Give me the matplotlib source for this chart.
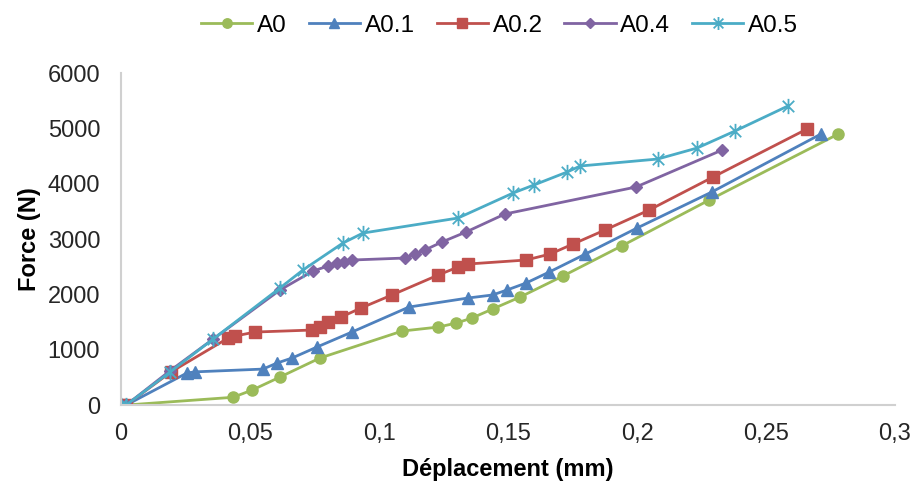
import matplotlib.pyplot as plt
from matplotlib.path import Path

plt.rcParams['font.family'] = ['Liberation Sans', 'DejaVu Sans']

# data (displacement in mm, force in N)
a0_x = [0, 0.002, 0.0434, 0.0508, 0.0616, 0.0771, 0.109, 0.123, 0.130, 0.136, 0.144,
        0.1547, 0.1713, 0.194, 0.228, 0.278]
a0_y = [0, 0, 140, 270, 506, 850, 1338, 1410, 1483, 1573, 1736,
        1953, 2333, 2875, 3707, 4900]

a01_x = [0, 0.002, 0.0256, 0.0287, 0.055, 0.0605, 0.0663, 0.076, 0.0895, 0.1116, 0.1345,
         0.144, 0.1496, 0.157, 0.166, 0.180, 0.200, 0.229, 0.2713]
a01_y = [0, 0, 580, 600, 650, 760, 850, 1050, 1320, 1772, 1935,
         1990, 2080, 2206, 2405, 2730, 3200, 3852, 4900]

a02_x = [0, 0.002, 0.0194, 0.0415, 0.0442, 0.052, 0.074, 0.0771, 0.0802, 0.0853, 0.093,
         0.105, 0.1229, 0.1306, 0.1345, 0.157, 0.1663, 0.1752, 0.1876, 0.2047, 0.2295, 0.2659]
a02_y = [0, 0, 600, 1210, 1248, 1320, 1356, 1410, 1500, 1591, 1754,
         1990, 2350, 2495, 2550, 2622, 2730, 2911, 3165, 3526, 4123, 4991]

a04_x = [0, 0.002, 0.019, 0.0357, 0.0616, 0.0744, 0.0802, 0.0837, 0.0864, 0.0895, 0.110,
         0.114, 0.1178, 0.1244, 0.1337, 0.1488, 0.1996, 0.233]
a04_y = [0, 0, 620, 1193, 2080, 2423, 2513, 2568, 2586, 2622, 2658,
         2730, 2803, 2948, 3128, 3454, 3942, 4611]

a05_x = [0, 0.002, 0.019, 0.0357, 0.0616, 0.0705, 0.086, 0.0938, 0.1306, 0.152, 0.160,
         0.1729, 0.178, 0.208, 0.2233, 0.238, 0.2585]
a05_y = [0, 0, 597, 1193, 2116, 2441, 2929, 3110, 3381, 3834, 3978,
         4213, 4322, 4448, 4647, 4955, 5407]

x_ticks = [0, 0.05, 0.1, 0.15, 0.2, 0.25, 0.3]
x_labels = ['0', '0,05', '0,1', '0,15', '0,2', '0,25', '0,3']

# excel style star: vertical bar plus an X
star = Path([(0, -1), (0, 1), (-0.75, -0.75), (0.75, 0.75), (-0.75, 0.75), (0.75, -0.75)],
            [Path.MOVETO, Path.LINETO, Path.MOVETO, Path.LINETO, Path.MOVETO, Path.LINETO])

fig = plt.figure(figsize=(9.17, 4.88), dpi=100)
ax = fig.add_axes([0.132, 0.170, 0.844, 0.680])

ax.plot(a0_x, a0_y, color='#9BBB59', marker='o', markersize=8, lw=2, label='A0')
ax.plot(a01_x, a01_y, color='#4F81BD', marker='^', markersize=9, lw=2, label='A0.1')
ax.plot(a02_x, a02_y, color='#C0504D', marker='s', markersize=8, lw=2, label='A0.2')
ax.plot(a04_x, a04_y, color='#8064A2', marker='D', markersize=6.5, lw=2, label='A0.4')
ax.plot(a05_x, a05_y, color='#4BACC6', marker=star, markersize=11, mew=1.3,
        lw=2, label='A0.5')

ax.set_xlim(0, 0.3)
ax.set_ylim(0, 6000)
ax.set_xticks(x_ticks)
ax.set_xticklabels(x_labels)
ax.set_yticks(range(0, 6001, 1000))
ax.tick_params(length=0, labelsize=17, colors='#262626')
ax.tick_params(axis='y', pad=15)
ax.tick_params(axis='x', pad=13)
for s in ['top', 'right']:
    ax.spines[s].set_visible(False)
for s in ['left', 'bottom']:
    ax.spines[s].set_color('#d0d0d0')
    ax.spines[s].set_linewidth(1.5)

ax.set_xlabel('Déplacement (mm)', fontsize=17, fontweight='bold', labelpad=9)
ax.set_ylabel('Force (N)', fontsize=17, fontweight='bold', labelpad=5)

fig.legend(loc='upper center', bbox_to_anchor=(0.545, 1.015), ncol=5, frameon=False,
           fontsize=17.5, handlelength=2.1, columnspacing=0.9, handletextpad=0.2,
           markerscale=0.85)

fig.savefig('out.png', dpi=100)
